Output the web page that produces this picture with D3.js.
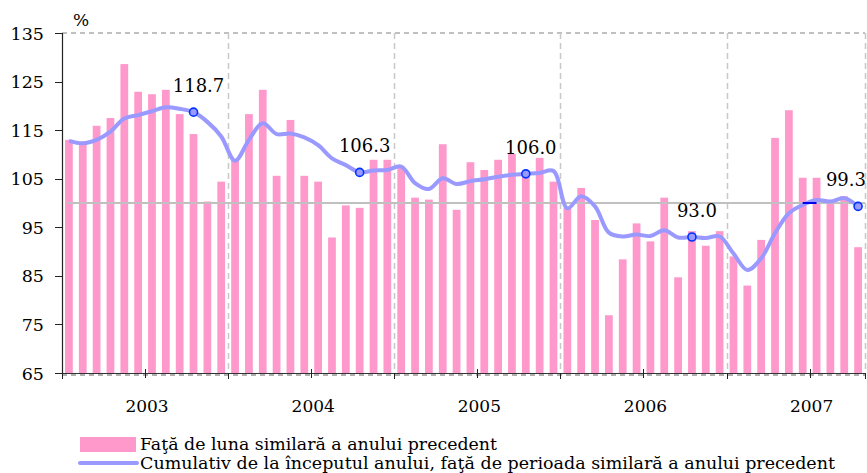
<!DOCTYPE html>
<html>
<head>
<meta charset="utf-8">
<script src="https://cdn.jsdelivr.net/npm/d3@7"></script>
<style>
  html, body { margin: 0; padding: 0; background: #fff; }
</style>
</head>
<body>
<div id="chart"></div>
<script>
// --- Data ---
const years = ["2003", "2004", "2005", "2006", "2007"];
const monthsPerYear = [12, 12, 12, 12, 10];

// fata de luna similara a anului precedent (%)
const monthly2003 = [113.0, 112.3, 115.9, 117.5, 128.6, 122.9, 122.4, 123.3, 118.3, 114.2, 100.3, 104.4];
const monthly2004 = [108.9, 118.3, 123.3, 105.6, 117.1, 105.6, 104.4, 92.9, 99.5, 99.0, 108.9, 108.9];
const monthly2005 = [107.5, 101.1, 100.7, 112.1, 98.6, 108.4, 106.8, 108.9, 110.1, 106.8, 109.3, 104.4];
const monthly2006 = [99.0, 103.1, 96.5, 76.9, 88.4, 95.8, 92.1, 101.1, 84.7, 94.2, 91.2, 94.2];
const monthly2007 = [89.0, 83.0, 92.4, 113.4, 119.1, 105.2, 105.2, 100.0, 101.4, 90.9];

// cumulativ de la inceputul anului (%)
const cumul2003 = [112.8, 112.3, 113.0, 114.7, 117.4, 118.1, 118.9, 119.7, 119.4, 118.7, 116.7, 113.7];
const cumul2004 = [108.7, 113.0, 116.4, 114.2, 114.3, 113.5, 111.9, 109.2, 107.8, 106.3, 106.7, 106.8];
const cumul2005 = [107.5, 104.1, 102.9, 105.1, 103.9, 104.5, 104.9, 105.4, 105.8, 106.0, 106.2, 106.6];
const cumul2006 = [98.9, 101.4, 99.3, 93.9, 93.1, 93.5, 93.2, 94.4, 92.9, 93.0, 92.8, 93.1];
const cumul2007 = [89.6, 86.2, 88.6, 93.8, 97.9, 99.6, 100.6, 100.3, 101.0, 99.3];

// October values labelled on the cumulative line
const labelMonths = [9, 21, 33, 45, 57];
const labelTexts = ["118.7", "106.3", "106.0", "93.0", "99.3"];

const yTicks = [65, 75, 85, 95, 105, 115, 125, 135];
const refValue = 100;
const blueDash = { from: 53, to: 54, value: 100 };

const legendLabels = [
    "Faţă de luna similară a anului precedent",
    "Cumulativ de la începutul anului, faţă de perioada similară a anului precedent"
];

const monthly = [].concat(monthly2003, monthly2004, monthly2005, monthly2006, monthly2007);
const cumul = [].concat(cumul2003, cumul2004, cumul2005, cumul2006, cumul2007);
const nMonths = monthly.length;

// --- Layout ---
const width = 867, height = 473;
const plotLeft = 62, plotRight = 865, plotTop = 33, plotBottom = 373;

const svg = d3.select("#chart").append("svg")
    .attr("width", width)
    .attr("height", height)
    .attr("font-family", "'DejaVu Serif', serif");

const x = d3.scaleBand()
    .domain(d3.range(nMonths))
    .range([plotLeft, plotRight])
    .paddingInner(0.44)
    .paddingOuter(0.22);

// continuous month position (0 = start of Jan 2003)
const xm = d3.scaleLinear().domain([0, nMonths]).range([plotLeft, plotRight]);
const y = d3.scaleLinear().domain([65, 135]).range([plotBottom, plotTop]);

// year start indexes
const yearStart = [];
monthsPerYear.reduce((acc, m) => { yearStart.push(acc); return acc + m; }, 0);

// --- Grid ---
const grid = svg.append("g");
grid.append("line")
    .attr("x1", plotLeft).attr("x2", plotRight)
    .attr("y1", y(135)).attr("y2", y(135))
    .attr("stroke", "#c0c0c0").attr("stroke-width", 2).attr("stroke-dasharray", "5,4");
grid.selectAll(".vgrid")
    .data(yearStart.slice(1).concat([nMonths]))
    .enter().append("line")
    .attr("x1", d => Math.round(xm(d)) + 0.5).attr("x2", d => Math.round(xm(d)) + 0.5)
    .attr("y1", y(135)).attr("y2", y(65))
    .attr("stroke", "#c8c8c8").attr("stroke-width", 1.5).attr("stroke-dasharray", "6,4");
grid.append("line")
    .attr("x1", plotLeft).attr("x2", plotRight)
    .attr("y1", y(65) + 2).attr("y2", y(65) + 2)
    .attr("stroke", "#b0b0b0").attr("stroke-width", 2).attr("stroke-dasharray", "5,4");

// --- Bars ---
svg.append("g")
    .selectAll("rect")
    .data(monthly)
    .enter().append("rect")
    .attr("x", (d, i) => x(i))
    .attr("width", x.bandwidth())
    .attr("y", d => y(d))
    .attr("height", d => y(65) - y(d))
    .attr("fill", "#ff99cc");

// reference line at 100
svg.append("line")
    .attr("x1", xm(0.35)).attr("x2", plotRight)
    .attr("y1", y(refValue)).attr("y2", y(refValue))
    .attr("stroke", "#c0c0c0").attr("stroke-width", 2);

// --- Cumulative line ---
const line = d3.line()
    .x((d, i) => xm(i + 0.5))
    .y(d => y(d))
    .curve(d3.curveCatmullRom.alpha(0.5));

svg.append("path")
    .datum(cumul)
    .attr("fill", "none")
    .attr("stroke", "#9999ff")
    .attr("stroke-width", 4)
    .attr("stroke-linejoin", "round")
    .attr("d", line);

svg.append("line")
    .attr("x1", xm(blueDash.from + 0.5)).attr("x2", xm(blueDash.to + 0.5))
    .attr("y1", y(blueDash.value)).attr("y2", y(blueDash.value))
    .attr("stroke", "#0000ee").attr("stroke-width", 2);

// markers + labels
svg.append("g")
    .selectAll("circle")
    .data(labelMonths)
    .enter().append("circle")
    .attr("cx", d => xm(d + 0.5))
    .attr("cy", d => y(cumul[d]))
    .attr("r", 4)
    .attr("fill", "#9999ff")
    .attr("stroke", "#0033ff")
    .attr("stroke-width", 1.6);

const labels = svg.append("g")
    .selectAll("text")
    .data(labelMonths)
    .enter().append("text")
    .attr("y", d => y(cumul[d]) - 20)
    .attr("text-anchor", "middle")
    .attr("font-size", 18)
    .text((d, i) => labelTexts[i]);
labels.attr("x", function (d) {
    const half = this.getComputedTextLength() / 2;
    return Math.min(xm(d + 0.5) + 5, width - 1 - half);
});

// --- Axes ---
const axis = svg.append("g");
axis.append("line")
    .attr("x1", plotLeft + 0.5).attr("x2", plotLeft + 0.5)
    .attr("y1", plotTop).attr("y2", plotBottom)
    .attr("stroke", "#222").attr("stroke-width", 1.2);
axis.append("line")
    .attr("x1", plotLeft).attr("x2", plotRight)
    .attr("y1", plotBottom + 0.5).attr("y2", plotBottom + 0.5)
    .attr("stroke", "#333").attr("stroke-width", 1.2);

axis.selectAll(".ytick")
    .data(yTicks)
    .enter().append("line")
    .attr("x1", plotLeft - 7).attr("x2", plotLeft)
    .attr("y1", d => Math.round(y(d)) + 0.5).attr("y2", d => Math.round(y(d)) + 0.5)
    .attr("stroke", "#222");

axis.selectAll(".ylabel")
    .data(yTicks)
    .enter().append("text")
    .attr("x", 44)
    .attr("y", d => y(d) + 6.5)
    .attr("text-anchor", "end")
    .attr("font-size", 17.5)
    .text(d => d);

// year boundary ticks (down) and mid-year ticks
axis.selectAll(".xtick")
    .data(yearStart.concat([nMonths]))
    .enter().append("line")
    .attr("x1", d => Math.round(xm(d)) + 0.5).attr("x2", d => Math.round(xm(d)) + 0.5)
    .attr("y1", plotBottom).attr("y2", plotBottom + 6)
    .attr("stroke", "#222");
axis.selectAll(".xmid")
    .data(yearStart)
    .enter().append("line")
    .attr("x1", d => Math.round(xm(d + 6)) + 0.5).attr("x2", d => Math.round(xm(d + 6)) + 0.5)
    .attr("y1", plotBottom - 4).attr("y2", plotBottom + 5)
    .attr("stroke", "#222");

axis.selectAll(".xlabel")
    .data(years)
    .enter().append("text")
    .attr("x", (d, i) => xm(yearStart[i] + 6) + 2)
    .attr("y", 412)
    .attr("text-anchor", "middle")
    .attr("font-size", 17)
    .text(d => d);

svg.append("text")
    .attr("x", 73).attr("y", 26)
    .attr("font-size", 17)
    .text("%");

// --- Legend ---
const legend = svg.append("g");
legend.append("rect")
    .attr("x", 80).attr("y", 437)
    .attr("width", 56).attr("height", 15)
    .attr("fill", "#ff99cc");
legend.append("line")
    .attr("x1", 80).attr("x2", 137)
    .attr("y1", 463).attr("y2", 463)
    .attr("stroke", "#9999ff").attr("stroke-width", 4)
    .attr("stroke-linecap", "round");
legend.selectAll("text")
    .data(legendLabels)
    .enter().append("text")
    .attr("x", 140)
    .attr("y", (d, i) => 450 + i * 19)
    .attr("font-size", 17)
    .attr("textLength", (d, i) => [357, 695][i])
    .attr("lengthAdjust", "spacingAndGlyphs")
    .text(d => d);
</script>
</body>
</html>
